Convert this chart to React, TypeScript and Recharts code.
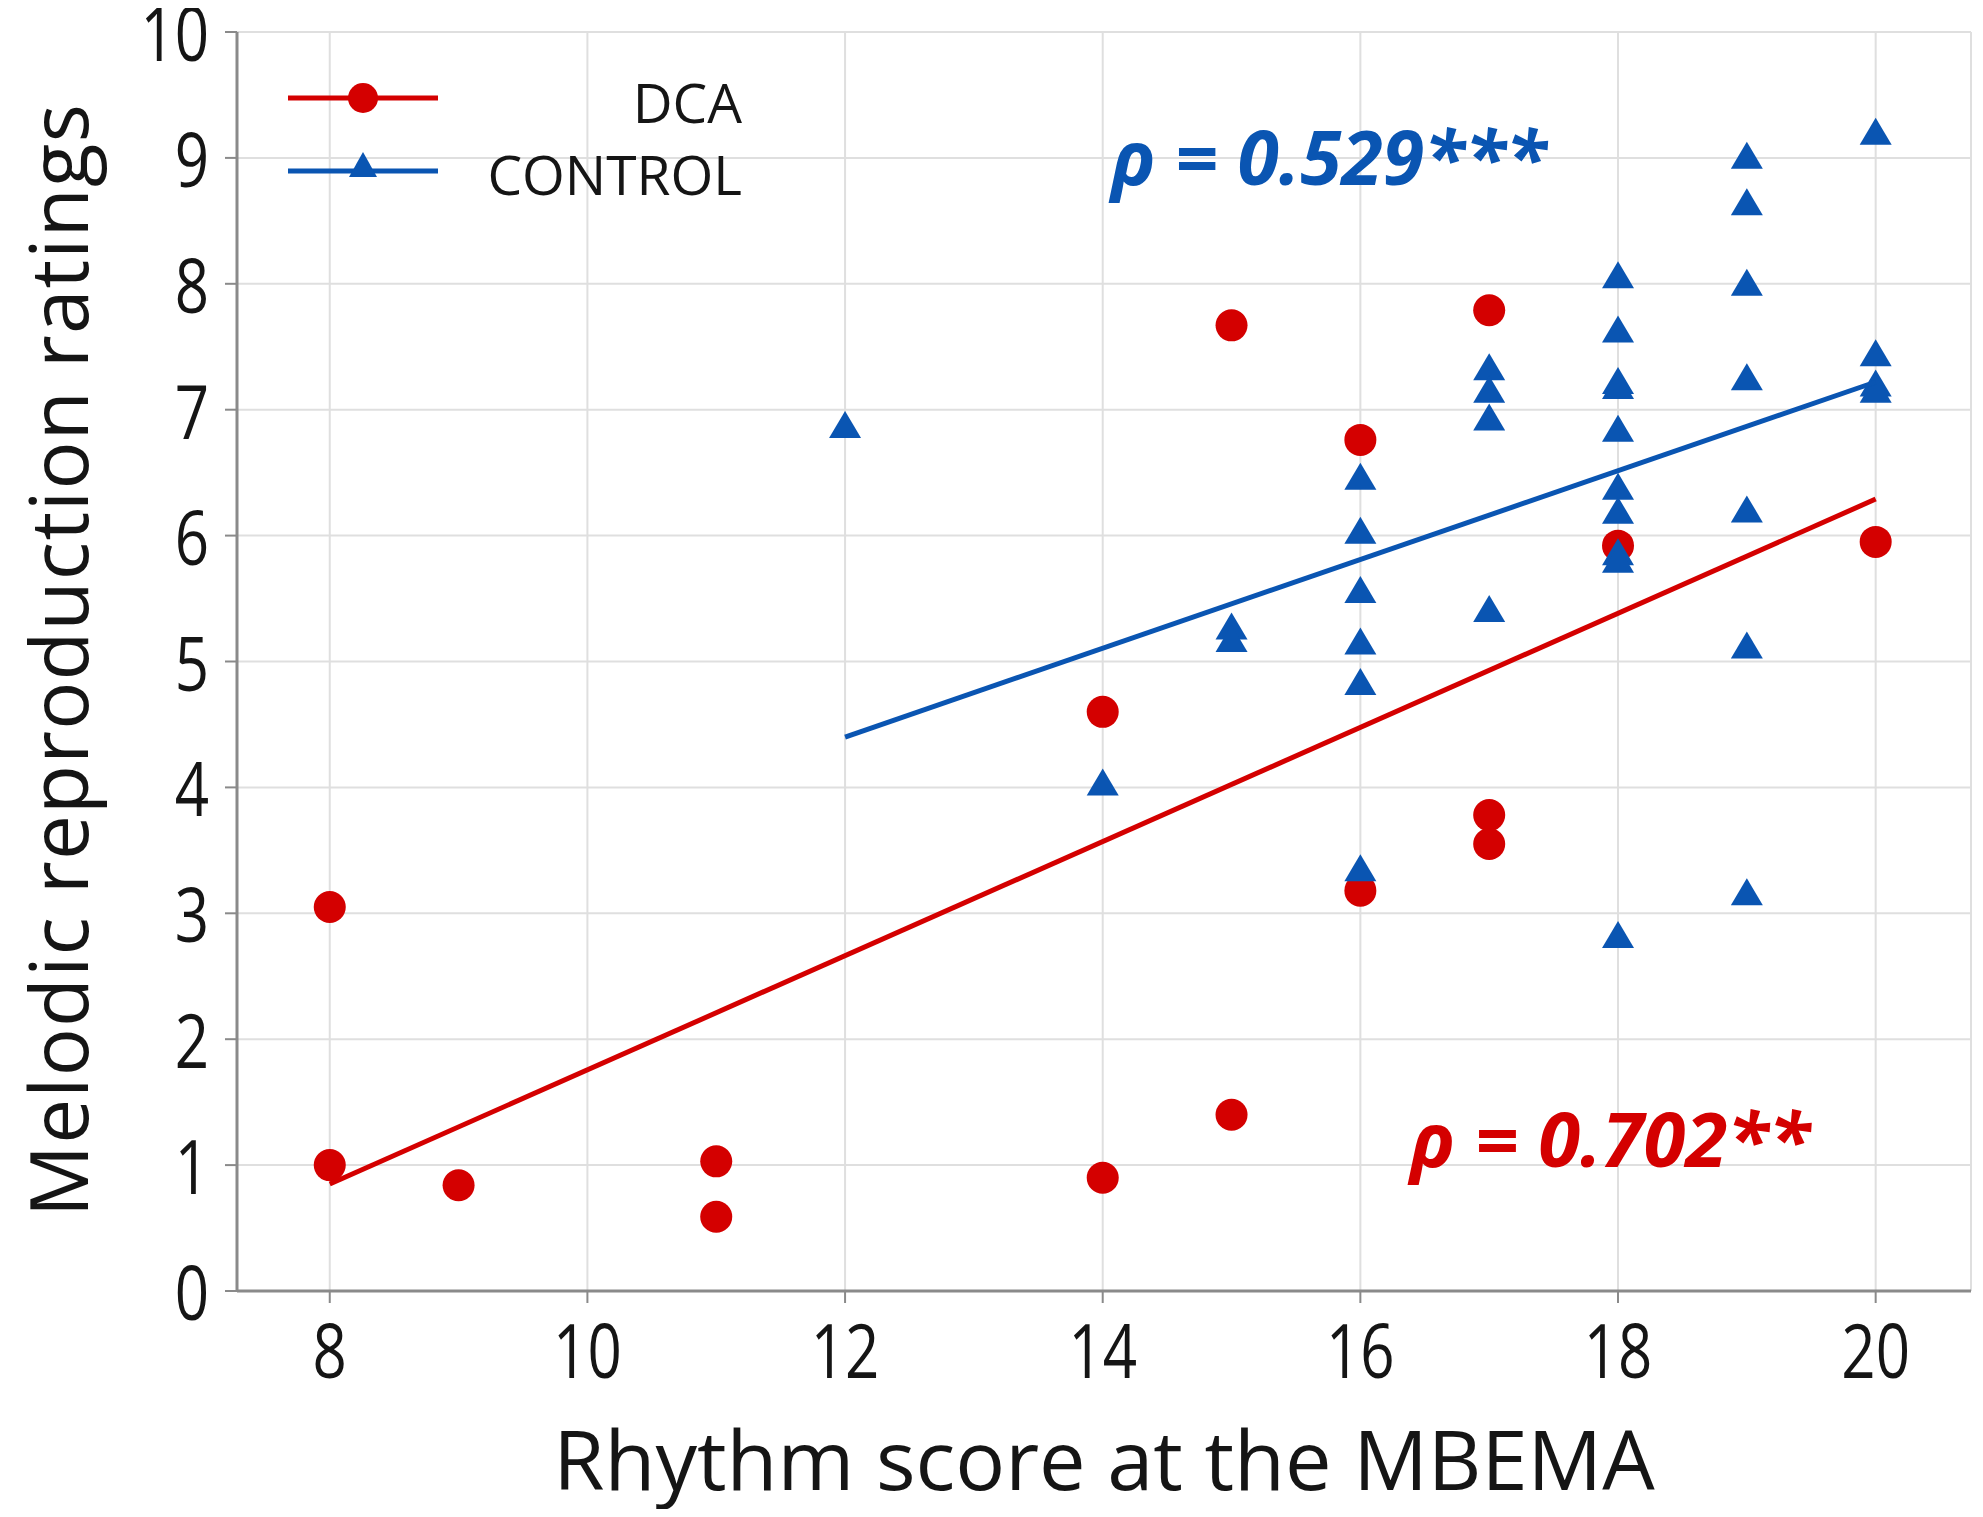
import React from 'react';
import { ScatterChart, Scatter, XAxis, YAxis, CartesianGrid, Legend, Customized } from 'recharts';

// Rhythm score (x) and melodic reproduction rating (y) per group
const dcaRhythm = [8, 8, 9, 11, 11, 14, 14, 15, 15, 16, 16, 17, 17, 17, 18, 20];
const dcaMelodic = [3.05, 1.0, 0.84, 1.03, 0.59, 4.6, 0.9, 7.67, 1.4, 6.76, 3.18, 7.79, 3.78, 3.55, 5.92, 5.95];

const controlRhythm = [
  12, 14, 15, 15, 16, 16, 16, 16, 16, 16, 17, 17, 17, 17,
  18, 18, 18, 18, 18, 18, 18, 18, 18, 18,
  19, 19, 19, 19, 19, 19, 19, 20, 20, 20, 20,
];
const controlMelodic = [
  6.87, 4.03, 5.27, 5.17, 6.46, 6.03, 5.56, 5.15, 4.83, 3.35, 7.33, 7.15, 6.93, 5.41,
  8.06, 7.63, 7.22, 7.18, 6.84, 6.38, 6.19, 5.86, 5.8, 2.82,
  9.01, 8.64, 8.0, 7.25, 6.2, 5.12, 3.16, 9.2, 7.44, 7.2, 7.15,
];

// Fitted regression lines (end points)
const dcaFitRhythm = [8, 20];
const dcaFitMelodic = [0.85, 6.29];
const controlFitRhythm = [12, 20];
const controlFitMelodic = [4.4, 7.22];

const xTicks = [8, 10, 12, 14, 16, 18, 20];
const yTicks = [0, 1, 2, 3, 4, 5, 6, 7, 8, 9, 10];
const xDomain = [7.28, 20.74];
const yDomain = [0, 10];

const seriesNames = ['DCA', 'CONTROL'];
const rhoTexts = ['ρ = 0.702**', 'ρ = 0.529***'];
const xTitle = 'Rhythm score at the MBEMA';
const yTitle = 'Melodic reproduction ratings';

const RED = '#D40000';
const BLUE = '#0A55B2';
const AXIS = '#8A8A8A';
const GRID = '#DFDFDF';
const TEXT = '#151515';
const FONT = '"Open Sans", "Noto Sans", sans-serif';

const zip = (xs: number[], ys: number[]) => xs.map((x, i) => ({ x, y: ys[i] }));
const dcaData = zip(dcaRhythm, dcaMelodic);
const controlData = zip(controlRhythm, controlMelodic);
const dcaFit = zip(dcaFitRhythm, dcaFitMelodic);
const controlFit = zip(controlFitRhythm, controlFitMelodic);

const CircleShape = (p: any) => <circle cx={p.cx} cy={p.cy} r={16} fill={RED} />;
const TriangleShape = (p: any) => (
  <polygon
    points={`${p.cx},${p.cy - 15} ${p.cx - 16},${p.cy + 12} ${p.cx + 16},${p.cy + 12}`}
    fill={BLUE}
  />
);
const NoShape = () => <g />;

const XTick = (p: any) => (
  <g transform={`translate(${p.x},${p.y + 75}) scale(0.8,1)`}>
    <text x={0} y={0} textAnchor="middle" fontFamily={FONT} fontSize={75} fontWeight={500} fill={TEXT}>
      {p.payload.value}
    </text>
  </g>
);
const YTick = (p: any) => (
  <g transform={`translate(${p.x},${p.y + 29}) scale(0.8,1)`}>
    <text x={0} y={0} textAnchor="end" fontFamily={FONT} fontSize={75} fontWeight={500} fill={TEXT}>
      {p.payload.value}
    </text>
  </g>
);

const LegendContent = () => (
  <svg width={500} height={160} style={{ display: 'block', overflow: 'visible' }}>
    <line x1={10} y1={30} x2={160} y2={30} stroke={RED} strokeWidth={5} />
    <circle cx={85} cy={30} r={15} fill={RED} />
    <text x={464} y={55} textAnchor="end" fontFamily={FONT} fontSize={55} fill={TEXT}>
      {seriesNames[0]}
    </text>
    <line x1={10} y1={103} x2={160} y2={103} stroke={BLUE} strokeWidth={5} />
    <polygon points="85,84 71,109 99,109" fill={BLUE} />
    <text x={464} y={127} textAnchor="end" fontFamily={FONT} fontSize={55} fill={TEXT}>
      {seriesNames[1]}
    </text>
  </svg>
);

const Annotations = () => (
  <g>
    <text x={1103} y={177} fontFamily={FONT} fontSize={75} fontWeight={700} fontStyle="italic" fill={BLUE}>
      {rhoTexts[1]}
    </text>
    <text x={1402} y={1159} fontFamily={FONT} fontSize={76} fontWeight={700} fontStyle="italic" fill={RED}>
      {rhoTexts[0]}
    </text>
    <text x={1096} y={1482} textAnchor="middle" fontFamily={FONT} fontSize={83} fontWeight={500} fill={TEXT}>
      {xTitle}
    </text>
    <text
      transform="translate(80,652) rotate(-90)"
      textAnchor="middle"
      fontFamily={FONT}
      fontSize={80}
      letterSpacing={1.2}
      fontWeight={500}
      fill={TEXT}
    >
      {yTitle}
    </text>
  </g>
);

export default function App() {
  return (
    <div style={{ width: 1967, height: 1509, marginBottom: -8, background: '#fff', overflow: 'visible' }}>
      <ScatterChart
        width={1967}
        height={1509}
        margin={{ top: 24, right: 4, bottom: 0, left: 0 }}
        style={{ overflow: 'visible' }}
      >
        <CartesianGrid xAxisId="b" yAxisId="l" stroke={GRID} strokeWidth={2} />
        <XAxis
          xAxisId="b"
          dataKey="x"
          type="number"
          domain={xDomain}
          ticks={xTicks}
          allowDataOverflow
          height={226}
          axisLine={{ stroke: AXIS, strokeWidth: 3 }}
          tickLine={{ stroke: AXIS, strokeWidth: 2 }}
          tickSize={12}
          tickMargin={0}
          tick={<XTick />}
        />
        <XAxis
          xAxisId="t"
          orientation="top"
          type="number"
          domain={xDomain}
          allowDataOverflow
          height={0}
          axisLine={{ stroke: AXIS, strokeWidth: 3 }}
          tickLine={false}
          tick={false}
        />
        <YAxis
          yAxisId="l"
          dataKey="y"
          type="number"
          domain={yDomain}
          ticks={yTicks}
          allowDataOverflow
          width={229}
          axisLine={{ stroke: AXIS, strokeWidth: 3 }}
          tickLine={{ stroke: AXIS, strokeWidth: 2 }}
          tickSize={12}
          tickMargin={16}
          tick={<YTick />}
        />
        <YAxis
          yAxisId="r"
          orientation="right"
          type="number"
          domain={yDomain}
          allowDataOverflow
          width={0}
          axisLine={{ stroke: AXIS, strokeWidth: 3 }}
          tickLine={false}
          tick={false}
        />
        <Scatter name={seriesNames[0]} xAxisId="b" yAxisId="l" data={dcaData} shape={CircleShape} isAnimationActive={false} />
        <Scatter name={seriesNames[1]} xAxisId="b" yAxisId="l" data={controlData} shape={TriangleShape} isAnimationActive={false} />
        <Scatter
          xAxisId="b"
          yAxisId="l"
          data={dcaFit}
          shape={NoShape}
          line={{ stroke: RED, strokeWidth: 5 }}
          strokeWidth={5}
          lineType="joint"
          legendType="none"
          isAnimationActive={false}
        />
        <Scatter
          xAxisId="b"
          yAxisId="l"
          data={controlFit}
          shape={NoShape}
          line={{ stroke: BLUE, strokeWidth: 5 }}
          strokeWidth={5}
          lineType="joint"
          legendType="none"
          isAnimationActive={false}
        />
        <Legend
          layout="vertical"
          align="center"
          verticalAlign="middle"
          wrapperStyle={{ position: 'absolute', left: 270, top: 60, width: 500, height: 160 }}
          content={<LegendContent />}
        />
        <Customized component={Annotations} />
      </ScatterChart>
    </div>
  );
}
